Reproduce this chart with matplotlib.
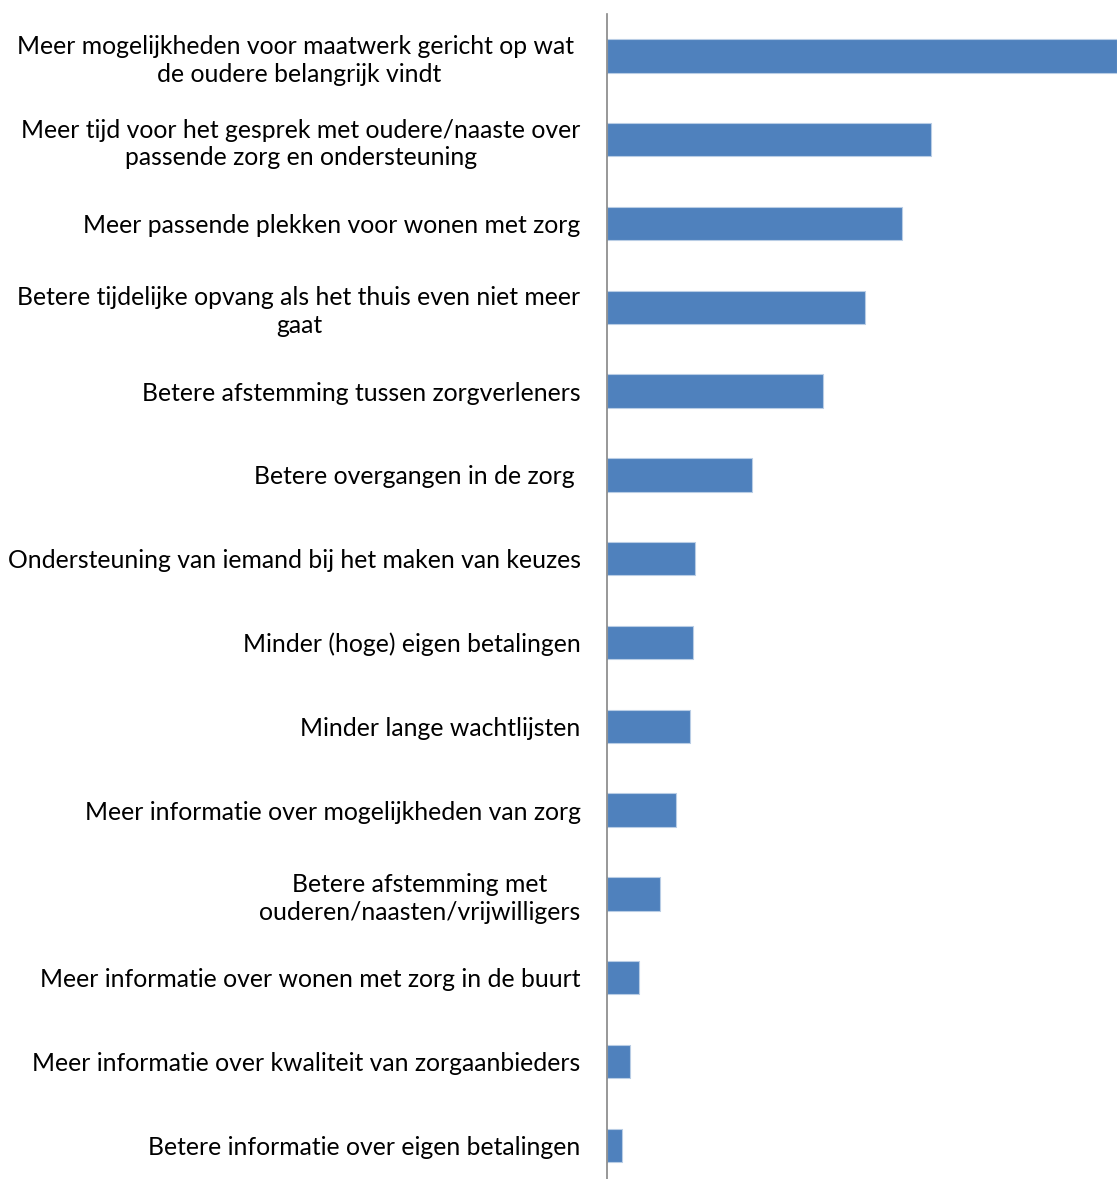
import numpy as np
import matplotlib
matplotlib.use("Agg")
import matplotlib.pyplot as plt

plt.rcParams['font.family'] = ['Lato', 'DejaVu Sans']

labels = [
    "Meer mogelijkheden voor maatwerk gericht op wat \nde oudere belangrijk vindt",
    "Meer tijd voor het gesprek met oudere/naaste over\npassende zorg en ondersteuning",
    "Meer passende plekken voor wonen met zorg",
    "Betere tijdelijke opvang als het thuis even niet meer\ngaat",
    "Betere afstemming tussen zorgverleners",
    "Betere overgangen in de zorg ",
    "Ondersteuning van iemand bij het maken van keuzes",
    "Minder (hoge) eigen betalingen",
    "Minder lange wachtlijsten",
    "Meer informatie over mogelijkheden van zorg",
    "Betere afstemming met\nouderen/naasten/vrijwilligers",
    "Meer informatie over wonen met zorg in de buurt",
    "Meer informatie over kwaliteit van zorgaanbieders",
    "Betere informatie over eigen betalingen",
]
values = [51.0, 32.4, 29.5, 25.8, 21.6, 14.5, 8.8, 8.6, 8.3, 6.9, 5.3, 3.2, 2.3, 1.5]

W, H = 1117, 1179
fig = plt.figure(figsize=(W / 100, H / 100), dpi=100)
# axes box in pixels: left 607, top 14, category step ~83.8 px
left, top, step = 607, 14, 83.8
height = step * len(labels)
ax = fig.add_axes([left / W, (H - top - height) / H, (W - left) / W, height / H])

y = np.arange(len(labels))
ax.barh(y, values, height=0.4, color='#4F81BD', edgecolor='#B9CDE5', linewidth=0.8)
ax.set_ylim(len(labels) - 0.5, -0.5)
ax.set_xlim(0, 51)

ax.set_yticks(y)
ax.set_yticklabels(labels, fontsize=17.8)
for lbl in ax.get_yticklabels():
    lbl.set_multialignment('center')
    lbl.set_linespacing(1.25)
ax.tick_params(axis='y', length=0, pad=19)
ax.set_xticks([])

for s in ['top', 'right', 'bottom']:
    ax.spines[s].set_visible(False)
ax.spines['left'].set_color('#868686')
ax.spines['left'].set_linewidth(1.2)

fig.savefig("out.png", dpi=100)
